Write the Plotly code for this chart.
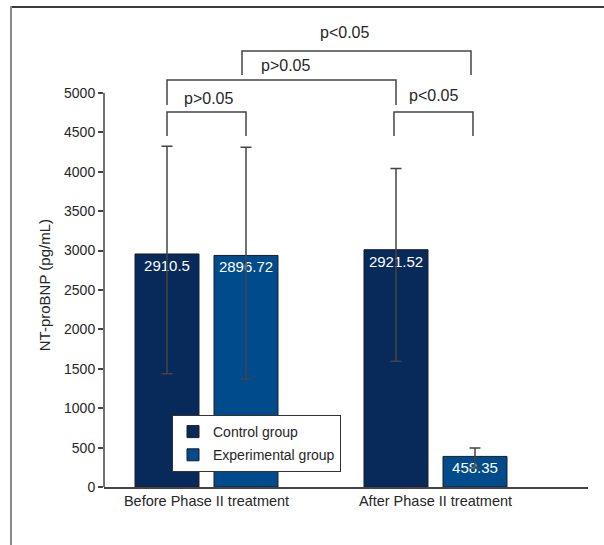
import plotly.graph_objects as go

# ---------------- data ----------------
categories = ["Before Phase II treatment", "After Phase II treatment"]
series_names = ["Control group", "Experimental group"]

control_values = [2957, 3011]          # drawn bar heights
experimental_values = [2938, 388]
control_labels = ["2910.5", "2921.52"]  # printed values
experimental_labels = ["2896.72", "458.35"]

control_err_high = [4325, 4042]
control_err_low = [1436, 1597]
experimental_err_high = [4312, 494]
experimental_err_low = [1372, 241]

y_tick_values = [0, 500, 1000, 1500, 2000, 2500, 3000, 3500, 4000, 4500, 5000]
y_tick_labels = [str(v) for v in y_tick_values]
y_title = "NT-proBNP (pg/mL)"

# comparisons: (category a, series a, category b, series b, label)
comparisons = [
    (0, 0, 0, 1, "p>0.05"),
    (1, 0, 1, 1, "p<0.05"),
    (0, 0, 1, 0, "p>0.05"),
    (0, 1, 1, 1, "p<0.05"),
]

# ---------------- style / geometry ----------------
FONT = "Liberation Sans, Arial, sans-serif"
TXT = "#262626"
C_CTRL = "#072a5b"
C_EXP = "#004b8c"
AXIS = "#444444"
W, H = 604, 545
ML, MR, MT, MB = 104, 16, 14, 58
YMAX = 6002
XR = [-0.4476, 1.666]
BARGAP, BARGROUPGAP = 0.31, 0.19
OFF = (1 - BARGAP) / 4
PXX = (W - ML - MR) / (XR[1] - XR[0])
PXY = (H - MT - MB) / YMAX


def px2paper_x(px):
    return (px - ML) / (W - ML - MR)


def px2paper_y(py):
    return (H - MB - py) / (H - MT - MB)


def bar_x(cat, ser):
    return cat + (-OFF if ser == 0 else OFF)


fig = go.Figure()
vals = [control_values, experimental_values]
labs = [control_labels, experimental_labels]
hi = [control_err_high, experimental_err_high]
lo = [control_err_low, experimental_err_low]
cols = [C_CTRL, C_EXP]
for s in range(2):
    fig.add_trace(go.Bar(
        x=categories, y=vals[s], name=series_names[s], legendgroup=f"g{s}",
        marker=dict(color=cols[s], line=dict(color="#1c1c2a", width=1)),
        text=labs[s], textposition="inside", insidetextanchor="end",
        textangle=0, constraintext="none", cliponaxis=False,
        insidetextfont=dict(family=FONT, size=15, color="white"),
        error_y=dict(type="data", symmetric=False,
                     array=[h - v for h, v in zip(hi[s], vals[s])],
                     arrayminus=[v - l for l, v in zip(lo[s], vals[s])],
                     color=AXIS, thickness=1.5, width=5.5),
    ))

shapes = []
# y axis line from 0 to 5000
shapes.append(dict(type="line", xref="paper", yref="y", x0=0, x1=0,
                   y0=0, y1=y_tick_values[-1], line=dict(color=AXIS, width=1.5)))

# brackets: (top level, leg length, label y, label dx px, inset px)
bracket_geo = [
    (4759, 305, 4924, 2, 0),
    (4759, 305, 4962, 0, 2),
    (5165, 317, 5343, 4, 0),
    (5533, 305, 5761, -12, 4),
]
annotations = []
for (ca, sa, cb, sb, lab), (top, leg, ly, dx, inset) in zip(comparisons, bracket_geo):
    xa = bar_x(ca, sa) - inset / PXX
    xb = bar_x(cb, sb) - inset / PXX
    pts = [(xa, top - leg), (xa, top), (xb, top), (xb, top - leg)]
    path = "M " + " L ".join(f"{x},{y}" for x, y in pts)
    shapes.append(dict(type="path", path=path, xref="x", yref="y",
                       line=dict(color=AXIS, width=1.5)))
    annotations.append(dict(x=(xa + xb) / 2 + dx / PXX, y=ly, xref="x", yref="y",
                            xanchor="center", yanchor="middle",
                            text=lab, showarrow=False,
                            font=dict(family=FONT, size=16, color=TXT)))

# outer frame (top and left lines)
shapes.append(dict(type="line", xref="paper", yref="paper",
                   x0=px2paper_x(10), x1=px2paper_x(610),
                   y0=px2paper_y(7), y1=px2paper_y(7),
                   line=dict(color="#3c3c3c", width=2)))
shapes.append(dict(type="line", xref="paper", yref="paper",
                   x0=px2paper_x(11), x1=px2paper_x(11),
                   y0=px2paper_y(6), y1=px2paper_y(550),
                   line=dict(color="#8a8a8a", width=2)))

# y axis title
annotations.append(dict(x=px2paper_x(44), y=y_tick_values[-1] / 2 + 60, xref="paper", yref="y",
                        xanchor="center", yanchor="middle",
                        text=y_title, textangle=-90, showarrow=False,
                        font=dict(family=FONT, size=15, color=TXT)))

fig.update_layout(
    width=W, height=H,
    margin=dict(l=ML, r=MR, t=MT, b=MB, autoexpand=False),
    paper_bgcolor="white", plot_bgcolor="white",
    barmode="group", bargap=BARGAP, bargroupgap=BARGROUPGAP,
    font=dict(family=FONT, size=14, color=TXT),
    shapes=shapes, annotations=annotations,
    showlegend=True,
    legend=dict(x=px2paper_x(172), y=px2paper_y(415), xanchor="left", yanchor="top",
                bgcolor="white", bordercolor="#333333", borderwidth=1,
                traceorder="grouped", tracegroupgap=2,
                font=dict(family=FONT, size=14, color=TXT), itemclick=False),
    xaxis=dict(range=XR, showline=True, linecolor=AXIS, linewidth=1.5,
               ticks="", showgrid=False, zeroline=False,
               tickfont=dict(family=FONT, size=14.5, color=TXT)),
    yaxis=dict(range=[0, YMAX], showline=False, showgrid=False, zeroline=False,
               tickvals=y_tick_values, ticktext=y_tick_labels,
               ticks="outside", ticklen=5, tickwidth=1.5, tickcolor=AXIS,
               tickfont=dict(family=FONT, size=14, color=TXT)),
)

fig.write_html("out.html", config={"displayModeBar": False},
               post_script="document.body.style.margin='0';document.body.style.overflow='hidden';")
